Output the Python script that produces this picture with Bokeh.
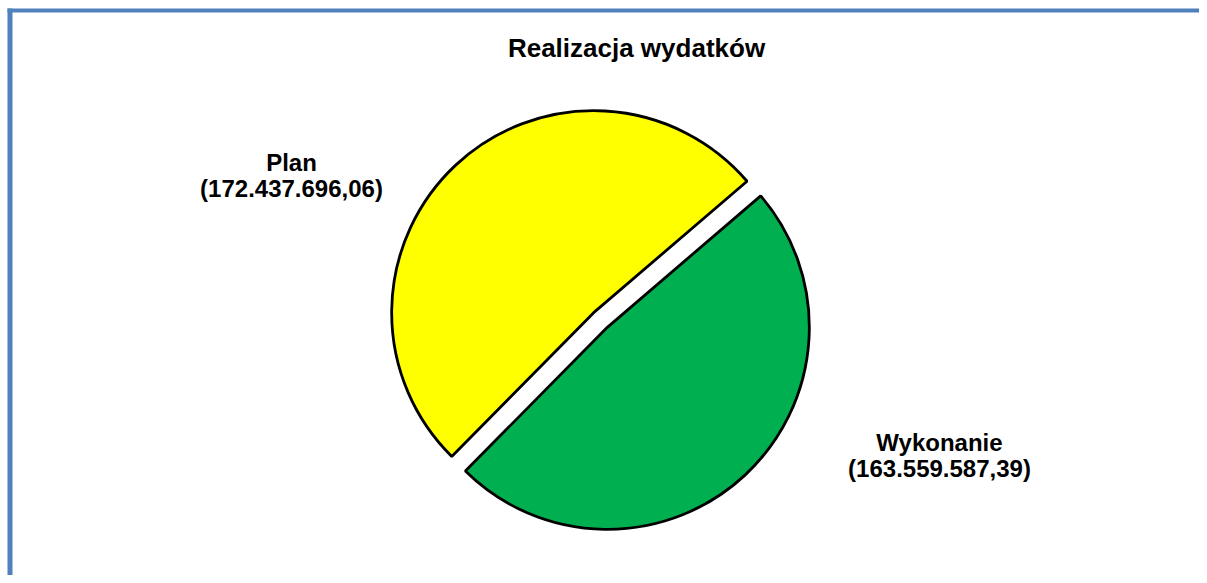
import math
from bokeh.plotting import figure
from bokeh.models import Range1d, BoxAnnotation, Label
from bokeh.embed import file_html
from bokeh.resources import INLINE

# ---- data ----
title_text = "Realizacja wydatków"
categories = ["Plan", "Wykonanie"]
amounts = [172437696.06, 163559587.39]
amount_labels = ["(172.437.696,06)", "(163.559.587,39)"]
colors = ["#FFFF00", "#00B050"]

# ---- layout ----
W, H = 1199, 575
FONT = "Liberation Sans"
p = figure(width=W, height=H, output_backend="svg", toolbar_location=None,
           x_range=Range1d(0, W), y_range=Range1d(0, H),
           x_axis_location=None, y_axis_location=None, min_border=0)
p.grid.visible = False
p.outline_line_color = None
p.background_fill_color = "white"
p.border_fill_color = "white"


def py(page_y):
    """convert a pixel row (from top) to a data y"""
    return H - page_y


# left / top frame border (blue)
BLUE = "#4F81BD"
p.add_layout(BoxAnnotation(left=7, right=12, top=py(8), fill_color=BLUE, fill_alpha=1, line_alpha=0))
p.add_layout(BoxAnnotation(left=7, bottom=py(12), top=py(8), fill_color=BLUE, fill_alpha=1, line_alpha=0))

# pie geometry (data units == pixels)
cx, cy = 600, py(319.5)
R = 202
explode = 10
start = math.radians(40.6)
total = sum(amounts)
a0 = start
for cat, amt, col in zip(categories, amounts, colors):
    span = amt / total * 2 * math.pi
    a1 = a0 + span
    mid = (a0 + a1) / 2
    x = cx + explode * math.cos(mid)
    y = cy + explode * math.sin(mid)
    p.wedge(x=[x], y=[y], radius=R, start_angle=[a0], end_angle=[a1],
            direction="anticlock", fill_color=col, line_color="black", line_width=2.8)
    a0 = a1

# title
p.add_layout(Label(x=636, y=py(47), text=title_text, text_align="center",
                   text_baseline="alphabetic", text_font=FONT, text_font_style="bold",
                   text_font_size="26px", text_color="black"))

# data labels: (centre x, baseline of first line, baseline of second line)
label_pos = [(291, 162, 188), (939, 442, 468)]
for (lx, b1, b2), cat, amt_lbl in zip(label_pos, categories, amount_labels):
    for txt, b in ((cat, b1), (amt_lbl, b2)):
        p.add_layout(Label(x=lx, y=py(b), text=txt, text_align="center",
                           text_baseline="alphabetic", text_font=FONT, text_font_style="bold",
                           text_font_size="24px", text_color="black"))

open("out.html", "w").write(file_html(p, INLINE))
